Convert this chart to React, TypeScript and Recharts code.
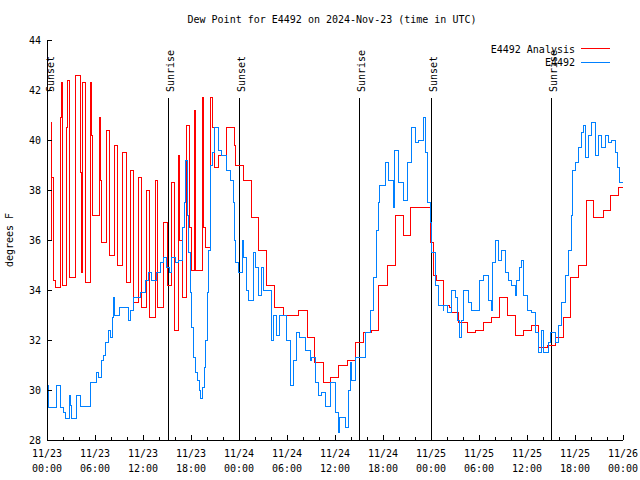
import { ComposedChart, Line, ReferenceLine, XAxis, YAxis } from "recharts";

// hours since 11/23 00:00 UTC, dew point in °F
const ANALYSIS: [number, number][] = [
  [0.0, 36.0], [0.5, 40.7], [0.6, 38.5], [0.8, 34.4], [1.1, 34.1], [1.65, 40.9], [1.75, 42.3],
  [1.9, 34.2], [2.45, 40.5], [2.6, 42.4], [2.8, 34.5], [3.5, 42.6], [4.15, 38.7], [4.25, 34.7],
  [4.4, 42.3], [4.75, 38.4], [4.85, 34.3], [5.45, 42.3], [5.6, 40.2], [5.7, 37.0], [6.55, 40.9],
  [6.7, 38.4], [6.8, 35.9], [7.45, 40.4], [7.75, 35.4], [8.4, 39.8], [8.75, 35.0], [9.4, 39.5],
  [9.95, 34.3], [10.45, 38.8], [10.75, 33.5], [11.45, 38.5], [11.8, 33.3], [12.45, 38.0],
  [12.85, 32.9], [13.5, 38.4], [13.75, 33.3], [14.5, 36.7], [15.05, 34.2], [15.55, 38.3],
  [15.9, 32.4], [16.45, 39.4], [16.6, 36.0], [16.95, 33.7], [17.45, 40.6], [17.8, 36.5],
  [18.05, 34.8], [18.45, 41.2], [18.55, 34.8], [19.45, 41.7], [19.55, 36.5], [19.8, 35.7],
  [20.45, 41.7], [20.7, 40.5], [20.9, 38.9], [21.4, 39.4], [22.45, 40.5], [23.4, 39.8],
  [23.6, 39.0], [24.5, 38.4], [25.5, 36.9], [26.4, 35.6], [27.4, 34.2], [28.4, 33.3],
  [29.5, 33.0], [31.4, 33.2], [32.5, 32.1], [33.4, 31.1], [34.5, 30.3], [35.4, 30.5],
  [36.4, 31.0], [37.5, 31.2], [38.5, 31.9], [39.5, 32.3], [40.6, 32.4], [41.4, 34.2],
  [42.5, 35.0], [43.5, 37.0], [44.5, 36.2], [45.4, 37.3], [46.6, 37.3], [47.9, 35.9],
  [48.3, 34.6], [48.7, 34.4], [49.5, 33.6], [49.6, 33.4], [50.3, 33.3], [50.6, 33.1],
  [51.4, 32.7], [52.5, 32.3], [53.5, 32.4], [54.5, 32.7], [55.6, 32.9], [56.5, 33.7],
  [57.5, 33.0], [58.6, 32.2], [59.6, 32.4], [60.6, 32.6], [61.4, 31.7], [62.5, 31.8],
  [63.5, 32.1], [64.5, 32.9], [65.4, 34.5], [66.4, 35.0], [67.4, 37.6], [68.3, 36.9],
  [69.5, 37.2], [70.4, 37.8], [71.4, 38.1], [72.0, 38.1],
];

const STATION: [number, number][] = [
  [0.0, 30.2], [0.17, 29.3], [1.21, 30.2], [1.71, 29.3], [2.04, 29.1], [2.25, 28.85], [2.79, 29.8],
  [2.96, 29.4], [3.08, 28.85], [3.71, 29.8], [4.21, 29.35], [5.46, 30.3], [6.21, 30.7],
  [6.42, 30.5], [6.83, 31.2], [7.04, 31.4], [7.25, 31.9], [7.67, 32.4], [7.96, 32.1],
  [8.21, 32.9], [8.29, 33.7], [8.38, 33.0], [9.04, 33.3], [10.17, 32.8], [10.38, 33.2],
  [10.79, 33.7], [11.63, 33.9], [12.25, 34.4], [12.67, 34.7], [13.08, 34.4], [13.71, 34.7],
  [14.13, 35.1], [14.54, 35.3], [14.96, 34.9], [15.29, 34.7], [15.58, 35.3], [16.0, 35.1],
  [16.42, 35.2], [16.96, 36.5], [17.13, 37.5], [17.33, 39.2], [17.5, 37.0], [17.67, 35.5],
  [17.88, 33.9], [18.08, 32.5], [18.29, 31.3], [18.5, 30.7], [18.79, 30.4], [19.04, 30.0],
  [19.21, 29.65], [19.42, 30.1], [19.63, 30.9], [19.83, 32.0], [20.0, 33.9], [20.17, 35.6],
  [20.46, 39.0], [20.71, 39.5], [20.88, 40.5], [21.42, 39.6], [21.83, 39.4], [22.46, 38.8],
  [22.88, 38.4], [23.29, 37.5], [23.42, 36.0], [23.6, 35.1], [23.9, 34.7], [24.4, 36.0],
  [24.5, 35.3], [24.9, 34.0], [25.2, 33.6], [25.8, 35.5], [26.0, 34.9], [26.4, 33.8],
  [26.8, 34.9], [27.0, 34.0], [28.0, 32.0], [28.3, 33.0], [28.7, 32.2], [29.1, 33.0],
  [29.96, 32.0], [30.4, 30.2], [30.8, 31.2], [31.2, 32.3], [31.6, 32.1], [32.25, 31.6],
  [32.9, 31.2], [33.1, 31.3], [33.5, 30.3], [33.9, 29.8], [34.3, 29.9], [34.75, 29.36],
  [35.4, 30.3], [36.0, 29.1], [36.4, 28.3], [36.6, 28.9], [37.25, 28.5], [37.7, 30.0],
  [37.9, 31.1], [38.1, 30.4], [38.5, 31.3], [39.75, 32.3], [40.4, 33.2], [40.8, 34.5],
  [41.2, 36.4], [41.4, 37.5], [41.6, 38.2], [42.25, 39.1], [42.7, 38.4], [43.3, 37.3],
  [43.4, 39.6], [43.9, 38.3], [44.5, 37.6], [45.0, 39.1], [45.6, 40.5], [46.0, 39.9],
  [46.4, 40.0], [47.0, 40.9], [47.25, 39.5], [47.5, 37.5], [47.88, 36.7], [48.1, 35.5],
  [48.5, 34.2], [48.9, 33.4], [49.5, 33.2], [49.6, 33.4], [50.0, 33.1], [50.6, 34.0],
  [51.0, 33.7], [51.3, 32.8], [51.6, 32.1], [51.8, 32.8], [52.0, 34.0], [52.7, 33.5],
  [53.1, 33.2], [54.0, 34.4], [54.5, 34.6], [55.2, 33.6], [55.5, 33.2], [55.7, 35.1],
  [56.0, 36.0], [56.4, 35.2], [56.8, 35.6], [57.25, 34.7], [57.7, 34.4], [58.1, 34.2],
  [58.5, 33.8], [58.7, 34.4], [59.1, 34.9], [59.3, 35.2], [59.6, 33.8], [60.0, 33.2],
  [60.6, 33.1], [61.0, 32.3], [61.4, 31.5], [61.8, 32.4], [62.0, 31.5], [62.7, 31.9],
  [62.96, 32.3], [63.5, 31.9], [63.9, 32.6], [64.3, 33.5], [64.75, 34.6], [65.2, 35.6],
  [65.6, 37.0], [65.7, 38.8], [66.0, 39.1], [66.4, 39.7], [66.8, 40.3], [67.0, 40.6],
  [67.25, 39.3], [67.7, 40.2], [68.1, 40.7], [68.5, 39.4], [68.9, 40.2], [69.3, 39.7],
  [69.75, 40.2], [70.2, 39.9], [70.6, 40.0], [71.0, 39.5], [71.3, 38.9], [71.6, 38.3],
  [72.0, 38.2],
];

const HOUR_TICKS = [0, 2, 4, 6, 8, 10, 12, 14, 16, 18, 20, 22, 24, 26, 28, 30, 32, 34, 36,
  38, 40, 42, 44, 46, 48, 50, 52, 54, 56, 58, 60, 62, 64, 66, 68, 70, 72];
const LABEL_HOURS = [0, 6, 12, 18, 24, 30, 36, 42, 48, 54, 60, 66, 72];
const DAY_LABELS = ["11/23", "11/23", "11/23", "11/23", "11/24", "11/24", "11/24", "11/24",
  "11/25", "11/25", "11/25", "11/25", "11/26"];
const TIME_LABELS = ["00:00", "06:00", "12:00", "18:00", "00:00", "06:00", "12:00", "18:00",
  "00:00", "06:00", "12:00", "18:00", "00:00"];
const DEW_TICKS = [28, 30, 32, 34, 36, 38, 40, 42, 44];

const SUN_NAMES = ["Sunset", "Sunrise", "Sunset", "Sunrise", "Sunset", "Sunrise"];
const SUN_HOURS = [0.1, 15.15, 24.03, 39.05, 48.0, 63.05];

const TITLE = "Dew Point for E4492 on 2024-Nov-23 (time in UTC)";
const FONT = "'DejaVu Sans Mono', monospace";
const RED = "#ff0000";
const BLUE = "#0080ff";
const LINE_TOP = 41.68; // sun lines stop below their labels

const analysisRows = ANALYSIS.map(([h, v]) => ({ h, v }));
const stationRows = STATION.map(([h, v]) => ({ h, v }));

function BottomTick({ x, y, payload }: any) {
  const i = LABEL_HOURS.indexOf(payload.value);
  return (
    <g>
      <line x1={x} x2={x} y1={y} y2={y - (i >= 0 ? 5 : 3)} stroke="#000" />
      {i >= 0 && (
        <text x={x} y={y + 17} textAnchor="middle" fontFamily={FONT} fontSize={10} fill="#000">
          <tspan x={x}>{DAY_LABELS[i]}</tspan>
          <tspan x={x} dy={15}>{TIME_LABELS[i]}</tspan>
        </text>
      )}
    </g>
  );
}

function TopTick({ x, y }: any) {
  return <line x1={x} x2={x} y1={y} y2={y + 4} stroke="#000" />;
}

function LeftTick({ x, y, payload }: any) {
  return (
    <g>
      <line x1={x} x2={x + 5} y1={y} y2={y} stroke="#000" />
      <text x={x - 6} y={y} dy={4} textAnchor="end" fontFamily={FONT} fontSize={10} fill="#000">
        {payload.value}
      </text>
    </g>
  );
}

function RightTick({ x, y }: any) {
  return <line x1={x} x2={x - 5} y1={y} y2={y} stroke="#000" />;
}

function SunLabel({ viewBox, value }: any) {
  const x = viewBox.x + 2;
  const y = viewBox.y - 6;
  return (
    <text
      x={x}
      y={y}
      dy={4}
      transform={`rotate(-90 ${x} ${y})`}
      fontFamily={FONT}
      fontSize={10}
      fill="#000"
    >
      {value}
    </text>
  );
}

export default function App() {
  return (
    <div
      style={{
        position: "absolute",
        left: 0,
        top: 0,
        width: 640,
        height: 480,
        background: "#fff",
        shapeRendering: "crispEdges",
      }}
    >
      <ComposedChart width={640} height={480} margin={{ top: 40, right: 17, bottom: 0, left: 0 }}>
        <XAxis
          xAxisId="b"
          type="number"
          dataKey="h"
          domain={[0, 72]}
          allowDataOverflow
          ticks={HOUR_TICKS}
          interval={0}
          height={40}
          tickSize={0}
          tickMargin={0}
          tickLine={false}
          axisLine={{ stroke: "#000" }}
          tick={<BottomTick />}
        />
        <XAxis
          xAxisId="t"
          orientation="top"
          type="number"
          domain={[0, 72]}
          allowDataOverflow
          ticks={HOUR_TICKS}
          interval={0}
          height={0}
          tickSize={0}
          tickMargin={0}
          tickLine={false}
          axisLine={{ stroke: "#000" }}
          tick={<TopTick />}
        />
        <YAxis
          yAxisId="l"
          type="number"
          domain={[28, 44]}
          allowDataOverflow
          ticks={DEW_TICKS}
          interval={0}
          width={47}
          tickSize={0}
          tickMargin={0}
          tickLine={false}
          axisLine={{ stroke: "#000" }}
          tick={<LeftTick />}
        />
        <YAxis
          yAxisId="r"
          orientation="right"
          type="number"
          domain={[28, 44]}
          allowDataOverflow
          ticks={DEW_TICKS}
          interval={0}
          width={0}
          tickSize={0}
          tickMargin={0}
          tickLine={false}
          axisLine={{ stroke: "#000" }}
          tick={<RightTick />}
        />
        {SUN_HOURS.map((h, i) => (
          <ReferenceLine
            key={i}
            xAxisId="b"
            yAxisId="l"
            segment={[{ x: h, y: LINE_TOP }, { x: h, y: 28 }]}
            stroke="#000"
            strokeWidth={1}
            label={<SunLabel value={SUN_NAMES[i]} />}
          />
        ))}
        <Line
          xAxisId="b"
          yAxisId="l"
          data={analysisRows}
          dataKey="v"
          type="stepAfter"
          stroke={RED}
          strokeWidth={1}
          dot={false}
          isAnimationActive={false}
        />
        <Line
          xAxisId="b"
          yAxisId="l"
          data={stationRows}
          dataKey="v"
          type="stepAfter"
          stroke={BLUE}
          strokeWidth={1}
          dot={false}
          isAnimationActive={false}
        />
      </ComposedChart>
      <svg
        width={640}
        height={480}
        style={{ position: "absolute", left: 0, top: 0, pointerEvents: "none" }}
        fontFamily={FONT}
        fontSize={10}
      >
        <text x={332} y={23} textAnchor="middle">
          {TITLE}
        </text>
        <text x={13} y={240} textAnchor="middle" transform="rotate(-90 13 240)">
          degrees F
        </text>
        <text x={575} y={53} textAnchor="end">E4492 Analysis</text>
        <line x1={581} x2={610} y1={48} y2={48} stroke={RED} />
        <text x={575} y={66} textAnchor="end">E4492</text>
        <line x1={581} x2={610} y1={62} y2={62} stroke={BLUE} />
      </svg>
    </div>
  );
}
